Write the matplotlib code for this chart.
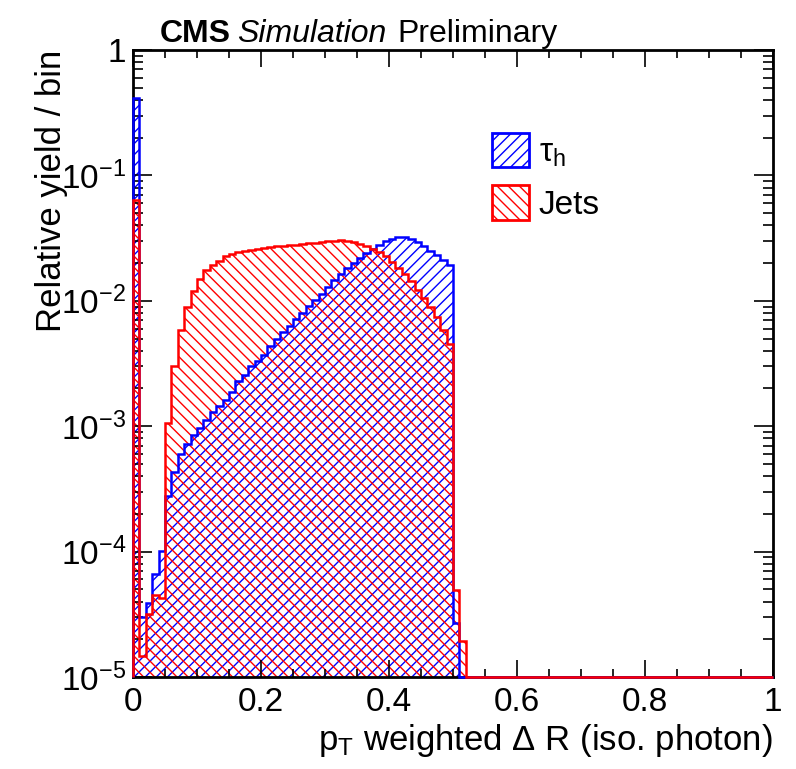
import numpy as np
import matplotlib
matplotlib.use("Agg")
import matplotlib.pyplot as plt
from matplotlib.patches import Patch
from matplotlib.ticker import FixedLocator, FixedFormatter, MultipleLocator, LogLocator, NullFormatter

plt.rcParams['font.family'] = 'Liberation Sans'
plt.rcParams['mathtext.fontset'] = 'custom'
plt.rcParams['mathtext.rm'] = 'Liberation Sans'
plt.rcParams['mathtext.it'] = 'Liberation Sans:italic'
plt.rcParams['mathtext.bf'] = 'Liberation Sans:bold'
plt.rcParams['hatch.linewidth'] = 1.0

# binning: 100 bins between 0 and 1
n_bins = 100
x_min, x_max = 0.0, 1.0

# relative yield per bin, tau_h
tau_h = [0.415, 3.0e-5, 3.9e-5, 6.6e-5, 1.01e-4, 2.78e-4, 4.31e-4, 5.97e-4, 7.16e-4, 8.45e-4,
         9.73e-4, 1.13e-3, 1.29e-3, 1.44e-3, 1.63e-3, 1.87e-3, 2.29e-3, 2.58e-3, 3.01e-3, 3.30e-3,
         3.73e-3, 4.34e-3, 4.97e-3, 5.61e-3, 6.26e-3, 7.18e-3, 8.01e-3, 9.16e-3, 0.0102, 0.0114,
         0.0129, 0.0146, 0.0164, 0.0183, 0.0200, 0.0219, 0.0240, 0.0260, 0.0277, 0.0298,
         0.0313, 0.0323, 0.0323, 0.0313, 0.0294, 0.0272, 0.0248, 0.0230, 0.0213, 0.0192,
         2.7e-5, 0.0] + [0.0] * 48

# jets
jets = [0.064, 1.48e-5, 3.2e-5, 4.5e-5, 4.3e-5, 1.07e-3, 3.0e-3, 5.9e-3, 9.0e-3, 0.0119,
        0.0149, 0.0175, 0.0194, 0.0209, 0.0226, 0.0236, 0.0243, 0.0249, 0.0256, 0.0260,
        0.0265, 0.0269, 0.0272, 0.0275, 0.0277, 0.0280, 0.0284, 0.0288, 0.0291, 0.0293,
        0.0298, 0.0301, 0.0303, 0.0301, 0.0296, 0.0285, 0.0272, 0.0257, 0.0244, 0.0226,
        0.0203, 0.0183, 0.0165, 0.0145, 0.0123, 0.0105, 0.0089, 0.0074, 0.0058, 0.0045,
        4.9e-5, 1.95e-5] + [0.0] * 48

xtick_vals = [0, 0.2, 0.4, 0.6, 0.8, 1]
xtick_labels = ['0', '0.2', '0.4', '0.6', '0.8', '1']
ytick_vals = [1e-5, 1e-4, 1e-3, 1e-2, 1e-1, 1]
ytick_labels = [r'$\mathregular{10^{-5}}$', r'$\mathregular{10^{-4}}$', r'$\mathregular{10^{-3}}$',
                r'$\mathregular{10^{-2}}$', r'$\mathregular{10^{-1}}$', '1']

ymin, ymax = 1e-5, 1.0
edges = np.linspace(x_min, x_max, n_bins + 1)

fig = plt.figure(figsize=(7.96, 7.69), dpi=100)
ax = fig.add_axes([0.167, 0.1196, 0.804, 0.8154])
ax.set_yscale('log')

# hatched fills
tau_arr = np.clip(np.array(tau_h), 1e-9, None)
jet_arr = np.clip(np.array(jets), 1e-9, None)
ax.stairs(tau_arr, edges, fill=True, baseline=1e-8, facecolor='none',
          edgecolor='blue', hatch='///', lw=0)
ax.stairs(jet_arr, edges, fill=True, baseline=1e-8, facecolor='none',
          edgecolor='red', hatch='\\\\\\', lw=0)
# outlines
ax.stairs(np.clip(np.array(tau_h), ymin, None), edges, baseline=ymin,
          color='blue', lw=1.8, zorder=3, clip_on=False)
ax.stairs(np.clip(np.array(jets), ymin, None), edges, baseline=ymin,
          color='red', lw=1.8, zorder=3, clip_on=False)

ax.set_xlim(x_min, x_max)
ax.set_ylim(ymin, ymax)

ax.xaxis.set_major_locator(FixedLocator(xtick_vals))
ax.xaxis.set_major_formatter(FixedFormatter(xtick_labels))
ax.xaxis.set_minor_locator(MultipleLocator(0.05))
ax.yaxis.set_major_locator(FixedLocator(ytick_vals))
ax.yaxis.set_major_formatter(FixedFormatter(ytick_labels))
ax.yaxis.set_minor_locator(LogLocator(base=10, subs=np.arange(2, 10), numticks=20))
ax.yaxis.set_minor_formatter(NullFormatter())

ax.tick_params(which='both', direction='in', top=True, right=True, width=1.2)
ax.tick_params(axis='x', which='major', length=12, pad=7, labelsize=24)
ax.tick_params(axis='x', which='minor', length=6)
ax.tick_params(axis='y', which='major', length=14, pad=5, labelsize=24)
ax.tick_params(axis='y', which='minor', length=7)
for s in ax.spines.values():
    s.set_linewidth(2)

ax.set_xlabel(r'p$_\mathregular{T}$ weighted $\mathregular{\Delta}$ R (iso. photon)', fontsize=25, loc='right')
ax.xaxis.set_label_coords(1.0, -0.072)
ax.set_ylabel('Relative yield / bin', fontsize=25, loc='top')
ax.yaxis.set_label_coords(-0.102, 1.0)

# CMS header
fig.text(160 / 796, 1 - 42 / 769, 'CMS', fontsize=23, fontweight='bold', ha='left', va='baseline')
fig.text(237 / 796, 1 - 42 / 769, 'Simulation', fontsize=23, style='italic', ha='left', va='baseline')
fig.text(397 / 796, 1 - 42 / 769, 'Preliminary', fontsize=23, ha='left', va='baseline')

handles = [Patch(facecolor='white', edgecolor='blue', hatch='///', lw=2),
           Patch(facecolor='white', edgecolor='red', hatch='\\\\\\', lw=2)]
labels = [r'$\mathregular{\tau_h}$', 'Jets']
fig.legend(handles, labels, loc='upper left', bbox_to_anchor=(492 / 796, 1 - 133 / 769),
           bbox_transform=fig.transFigure, frameon=False, fontsize=24,
           handlelength=1.1, handleheight=1.2, handletextpad=0.3, labelspacing=0.5,
           borderpad=0, borderaxespad=0)

fig.savefig('out.png', dpi=100)
